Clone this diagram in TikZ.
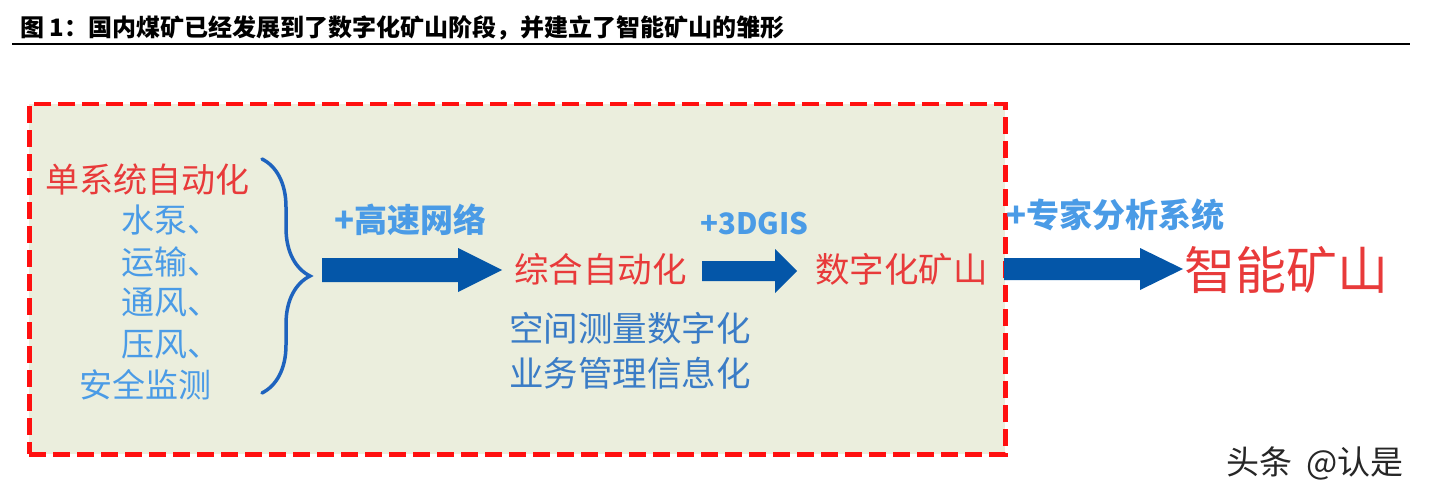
\documentclass[tikz,border=0pt]{standalone}
\usepackage{fontspec}
\newfontfamily\cjk{Noto Sans CJK SC}
\setmainfont{Noto Sans CJK SC}
\usetikzlibrary{decorations.pathreplacing}
\definecolor{redtxt}{HTML}{E83A3A}
\definecolor{lblue}{HTML}{4A9BE6}
\definecolor{mblue}{HTML}{3A7CC6}
\definecolor{dblue}{HTML}{0456A8}
\definecolor{bracec}{HTML}{1E63BE}
\definecolor{boxfill}{HTML}{EBEEDD}
\definecolor{dashred}{HTML}{FF1010}
\tikzset{
  fs/.style={font=\cjk\fontsize{#1}{#1}\selectfont},
  redlbl/.style={text=redtxt, inner sep=0pt},
  bluelbl/.style={text=lblue, inner sep=0pt},
  steplbl/.style={text=lblue, inner sep=0pt, font=\cjk\bfseries\fontsize{33}{33}\selectfont},
  fatarrow/.style={fill=dblue, draw=none},
}
\begin{document}
\begin{tikzpicture}[x=1pt,y=-1pt]
\useasboundingbox (0,0) rectangle (1434,497);
% title
\node[anchor=west, inner sep=0pt, font=\cjk\bfseries\fontsize{24}{24}\selectfont] (title) at (20,28) {图 1：国内煤矿已经发展到了数字化矿山阶段，并建立了智能矿山的雏形};
\draw[line width=2.2pt] (12,44) -- (1410,44);
% dashed box
\node[draw=dashred, fill=boxfill, line width=4.5pt, dash pattern=on 17pt off 7pt, minimum width=976pt, minimum height=350pt, anchor=north west, inner sep=0pt] (box) at (27,102) {};
% left column
\node[redlbl, fs=34, anchor=center] (single) at (147,180) {单系统自动化};
\node[bluelbl, fs=33, anchor=west] (l1) at (121,220) {水泵、};
\node[bluelbl, fs=33, anchor=west] (l2) at (121,262) {运输、};
\node[bluelbl, fs=33, anchor=west] (l3) at (121,303) {通风、};
\node[bluelbl, fs=33, anchor=west] (l4) at (121,345) {压风、};
\node[bluelbl, fs=33, anchor=west] (l5) at (79,385) {安全监测};
% brace
\coordinate (bt) at (262,159);
\coordinate (bb) at (262,393);
\draw[bracec, line width=3.5pt, line cap=round, decorate, decoration={brace, amplitude=48pt, raise=0pt}] (bt) -- (bb);
% arrow 1
\draw[fatarrow] (322,258) -- (458,258) -- (458,248) -- (502,270) -- (458,292) -- (458,282) -- (322,282) -- cycle;
\node[steplbl, anchor=west] (net) at (334,220) {+高速网络};
% middle
\node[redlbl, fs=34.5, anchor=west] (integ) at (514,269) {综合自动化};
\node[text=mblue, inner sep=0pt, fs=34.5, anchor=west] (m1) at (509,328) {空间测量数字化};
\node[text=mblue, inner sep=0pt, fs=34.5, anchor=west] (m2) at (509,373) {业务管理信息化};
% arrow 2
\draw[fatarrow] (702,261) -- (775,261) -- (775,249) -- (797,271) -- (775,293) -- (775,281) -- (702,281) -- cycle;
\node[steplbl, anchor=west, font=\cjk\bfseries\fontsize{29.5}{29.5}\selectfont] (gis) at (700,224) {+3DGIS};
\node[redlbl, fs=34.5, anchor=west] (digit) at (815,269) {数字化矿山};
% arrow 3
\draw[fatarrow] (1004,258) -- (1140,258) -- (1140,248) -- (1183,269) -- (1140,290) -- (1140,280) -- (1004,280) -- cycle;
\node[steplbl, anchor=west] (expert) at (1006,215) {+专家分析系统};
\node[redlbl, fs=51, anchor=west] (smart) at (1184,270) {智能矿山};
% watermark
\node[inner sep=0pt, text=black!85, fs=33, anchor=west] (wm) at (1226,463) {头条\hspace{14pt}@认是};
\end{tikzpicture}
\end{document}
